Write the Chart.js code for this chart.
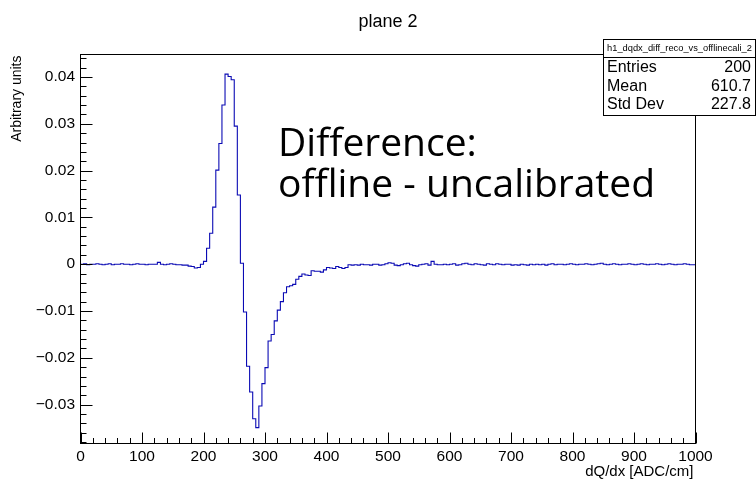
<!DOCTYPE html>
<html>
<head>
<meta charset="utf-8">
<script src="https://cdn.jsdelivr.net/npm/chart.js@4/dist/chart.umd.min.js"></script>
<style>
  html, body { margin: 0; padding: 0; background: #fff; }
  #c { display: block; }
</style>
</head>
<body>
<canvas id="c" width="756" height="479"></canvas>
<script>
// ---- data ----
const chartTitle = 'plane 2';
const xTitle = 'dQ/dx [ADC/cm]';
const yTitle = 'Arbitrary units';
const xMin = 0, xMax = 1000, binWidth = 5;
// bin contents, 200 bins of width 5 from 0 to 1000
const binValues = [
  // 0-50
  0.0000, 0.0000, 0.0001, -0.0001, 0.0000, 0.0000, 0.0001, 0.0000, -0.0001, 0.0000,
  // 50-100
  0.0001, -0.0001, 0.0000, 0.0000, 0.0001, 0.0000, 0.0000, -0.0001, 0.0000, 0.0001,
  // 100-150
  0.0000, 0.0000, -0.0001, 0.0000, 0.0000, 0.0000, 0.0004, 0.0000, -0.0001, 0.0000,
  // 150-200
  0.0001, 0.0000, -0.0001, -0.0001, -0.0002, -0.0002, -0.0004, -0.0005, -0.0008, -0.0007,
  // 200-250
  0.0000, 0.0006, 0.0034, 0.0066, 0.0122, 0.0201, 0.0258, 0.0340, 0.0406, 0.0401,
  // 250-300
  0.0394, 0.0295, 0.0148, 0.0002, -0.0102, -0.0218, -0.0273, -0.0330, -0.0349, -0.0303,
  // 300-350
  -0.0255, -0.0221, -0.0164, -0.0150, -0.0121, -0.0098, -0.0080, -0.0061, -0.0048, -0.0046,
  // 350-400
  -0.0043, -0.0032, -0.0026, -0.0021, -0.0023, -0.0024, -0.0014, -0.0015, -0.0015, -0.0017,
  // 400-450
  -0.0012, -0.0007, -0.0008, -0.0009, -0.0005, -0.0007, -0.0009, -0.0007, -0.0001, -0.0002,
  // 450-500
  -0.0001, -0.0002, 0.0000, -0.0001, -0.0001, -0.0002, 0.0000, 0.0000, -0.0002, -0.0001,
  // 500-550
  0.0001, 0.0003, 0.0002, -0.0002, -0.0003, -0.0001, 0.0001, 0.0002, -0.0001, -0.0003,
  // 550-600
  -0.0004, -0.0001, 0.0000, 0.0001, -0.0002, 0.0006, 0.0000, -0.0001, -0.0001, 0.0000,
  // 600-650
  -0.0001, 0.0000, 0.0001, -0.0002, -0.0001, 0.0001, 0.0002, 0.0000, -0.0001, 0.0001,
  // 650-700
  0.0000, -0.0001, -0.0002, 0.0001, 0.0000, -0.0001, 0.0001, 0.0000, -0.0001, 0.0000,
  // 700-750
  0.0000, -0.0002, -0.0001, -0.0002, 0.0000, -0.0001, -0.0002, 0.0000, -0.0001, 0.0000,
  // 750-800
  -0.0001, 0.0000, -0.0002, 0.0000, 0.0001, -0.0001, 0.0000, 0.0000, -0.0001, 0.0000,
  // 800-850
  0.0001, 0.0000, -0.0001, 0.0000, 0.0000, 0.0001, 0.0000, -0.0001, 0.0000, 0.0001,
  // 850-900
  0.0002, 0.0000, -0.0001, 0.0000, 0.0001, 0.0000, -0.0001, 0.0000, 0.0000, 0.0001,
  // 900-950
  0.0000, -0.0001, 0.0000, 0.0001, 0.0000, -0.0001, 0.0000, 0.0000, 0.0001, 0.0000,
  // 950-1000
  -0.0001, 0.0000, 0.0001, 0.0000, -0.0001, 0.0000, 0.0000, 0.0001, 0.0000, -0.0001
];
const xTickLabels = [0, 100, 200, 300, 400, 500, 600, 700, 800, 900, 1000];
const yTickLabels = [-0.03, -0.02, -0.01, 0, 0.01, 0.02, 0.03, 0.04];
const xMinorStep = 20;
const yMinorStep = 0.002;
const yMin = -0.0383, yMax = 0.0448;
const statsName = 'h1_dqdx_diff_reco_vs_offlinecali_2';
const statsLabels = ['Entries', 'Mean', 'Std Dev'];
const statsValues = ['200', '610.7', '227.8'];
const noteLines = ['Difference:', 'offline - uncalibrated'];

// ---- chart ----
const FONT = "'Liberation Sans', Arial, Helvetica, sans-serif";
const NOTE_FONT = "'Open Sans', Lato, sans-serif";
const points = binValues.map((v, i) => ({ x: xMin + i * binWidth, y: v }));
points.push({ x: xMax, y: binValues[binValues.length - 1] });

function fmtY(v) {
  if (Math.abs(v) < 1e-9) return '0';
  const s = v.toFixed(2);
  return s.replace('-', '\u2212');
}

const frameAndDecor = {
  id: 'frameAndDecor',
  afterDraw(chart) {
    const ctx = chart.ctx;
    const a = chart.chartArea;
    const xs = chart.scales.x, ys = chart.scales.y;
    ctx.save();
    ctx.strokeStyle = '#000';
    ctx.lineWidth = 1;
    // frame
    ctx.strokeRect(a.left, a.top, a.right - a.left, a.bottom - a.top);
    // x ticks (inside, from bottom)
    ctx.beginPath();
    for (let v = xMin; v <= xMax + 1e-9; v += xMinorStep) {
      const px = Math.round(xs.getPixelForValue(v)) + 0.5;
      const major = xTickLabels.includes(Math.round(v));
      const len = major ? 11 : 5.5;
      ctx.moveTo(px, a.bottom);
      ctx.lineTo(px, a.bottom - len);
    }
    // y ticks (inside, from left)
    const start = Math.ceil(yMin / yMinorStep);
    const end = Math.floor(yMax / yMinorStep);
    for (let k = start; k <= end; k++) {
      const v = k * yMinorStep;
      const py = Math.round(ys.getPixelForValue(v)) + 0.5;
      const major = (k % 5 === 0);
      const len = major ? 12 : 6;
      ctx.moveTo(a.left, py);
      ctx.lineTo(a.left + len, py);
    }
    ctx.stroke();

    // axis titles
    ctx.fillStyle = '#000';
    ctx.font = '15px ' + FONT;
    ctx.textAlign = 'right';
    ctx.textBaseline = 'alphabetic';
    ctx.fillText(xTitle, a.right - 2, 476);

    ctx.save();
    ctx.translate(21, a.top + 1);
    ctx.rotate(-Math.PI / 2);
    ctx.font = '14px ' + FONT;
    ctx.textAlign = 'right';
    ctx.textBaseline = 'alphabetic';
    ctx.fillText(yTitle, 0, 0);
    ctx.restore();

    // annotation text
    ctx.font = '40px ' + NOTE_FONT;
    const w = ctx.measureText(noteLines[1]).width;
    const size = 40 * 377 / w;
    ctx.font = size.toFixed(1) + 'px ' + NOTE_FONT;
    ctx.textAlign = 'left';
    ctx.fillText(noteLines[0], 278, 156);
    ctx.fillText(noteLines[1], 278, 197);

    // stats box
    const bx = 603.5, by = 39.5, bw = 152, bh = 76;
    ctx.fillStyle = '#fff';
    ctx.fillRect(bx, by, bw, bh);
    ctx.strokeRect(bx, by, bw, bh);
    ctx.beginPath();
    ctx.moveTo(bx, 57.5);
    ctx.lineTo(bx + bw, 57.5);
    ctx.stroke();
    ctx.fillStyle = '#000';
    ctx.font = '9.3px ' + FONT;
    ctx.textAlign = 'center';
    ctx.textBaseline = 'middle';
    ctx.fillText(statsName, bx + bw / 2, 48.5);
    ctx.font = '16px ' + FONT;
    const rowY = [68, 86.5, 105];
    statsLabels.forEach((lab, i) => {
      ctx.textAlign = 'left';
      ctx.fillText(lab, bx + 3.5, rowY[i]);
      ctx.textAlign = 'right';
      ctx.fillText(statsValues[i], bx + bw - 4.5, rowY[i]);
    });
    ctx.restore();
  }
};

new Chart(document.getElementById('c'), {
  type: 'line',
  data: {
    datasets: [{
      data: points,
      stepped: 'after',
      borderColor: '#0a0ab4',
      borderWidth: 1.1,
      pointRadius: 0,
      fill: false,
      tension: 0
    }]
  },
  options: {
    animation: false,
    responsive: false,
    devicePixelRatio: 1,
    parsing: false,
    layout: { padding: { left: 0, right: 60.5, top: 0, bottom: 0 } },
    plugins: {
      legend: { display: false },
      tooltip: { enabled: false },
      title: {
        display: true,
        text: chartTitle,
        fullSize: false,
        color: '#000',
        font: { family: FONT, size: 18, weight: 'normal', lineHeight: 1.2 },
        padding: { top: 11, bottom: 21.9 }
      }
    },
    scales: {
      x: {
        type: 'linear',
        min: xMin,
        max: xMax,
        afterBuildTicks: (s) => { s.ticks = xTickLabels.map(v => ({ value: v })); },
        afterFit: (s) => { s.height = 35.5; },
        grid: { display: false, drawTicks: false },
        border: { display: false },
        ticks: {
          padding: 4,
          color: '#000',
          font: { family: FONT, size: 15.5 },
          maxRotation: 0,
          autoSkip: false,
          callback: (v) => String(v)
        }
      },
      y: {
        type: 'linear',
        min: yMin,
        max: yMax,
        afterBuildTicks: (s) => { s.ticks = yTickLabels.map(v => ({ value: v })); },
        afterFit: (s) => { s.width = 80.5; },
        grid: { display: false, drawTicks: false },
        border: { display: false },
        ticks: {
          padding: 5.5,
          color: '#000',
          font: { family: FONT, size: 15.5 },
          autoSkip: false,
          callback: (v) => fmtY(v)
        }
      }
    }
  },
  plugins: [frameAndDecor]
});
</script>
</body>
</html>
